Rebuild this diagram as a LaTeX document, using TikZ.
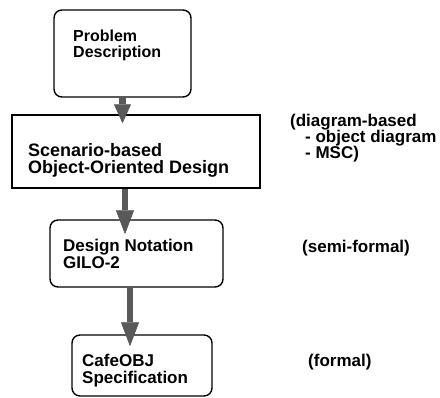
\documentclass[tikz,border=0pt]{standalone}
\usepackage{fontspec}
\setmainfont{Liberation Sans}
\usetikzlibrary{arrows.meta}

\begin{document}
\begin{tikzpicture}[x=1pt,y=-1pt]
\tikzstyle{block}=[draw,line width=1.4pt,rounded corners=8pt,inner sep=0pt]
\tikzstyle{plainblock}=[block,rounded corners=0pt]
\tikzstyle{txt}=[anchor=north west,align=left,inner sep=0pt,font=\fontsize{17}{17}\selectfont\bfseries]
\tikzstyle{flow}=[line width=6.5pt,draw=black!65,-{Triangle[width=18pt,length=24pt,line width=0.8pt,fill=black!65]},shorten >=-12pt]
\useasboundingbox (0,0) rectangle (440,398);
\node [block,minimum width=137pt,minimum height=87pt] (problem) at (122.5,53.5) {};
\node [plainblock,minimum width=248pt,minimum height=73pt] (scenario) at (136,151.5) {};
\node [block,minimum width=173pt,minimum height=67pt] (design) at (136.5,253.5) {};
\node [block,minimum width=140pt,minimum height=61pt] (cafe) at (142,365.5) {};
\node [txt,font=\fontsize{16}{16}\selectfont\bfseries] (problemtext) at (73,30) {Problem\\Description};
\node [txt,font=\fontsize{18}{17}\selectfont\bfseries] (scenariotext) at (28,143) {Scenario-based\\Object-Oriented Design};
\node [txt] (designtext) at (63,239) {Design Notation\\GILO-2};
\node [txt] (cafetext) at (82,354) {CafeOBJ\\Specification};
\node [txt,font=\fontsize{17}{16}\selectfont\bfseries] (diagramnote) at (290,114) {(diagram-based\\\hspace*{15pt}- object diagram\\\hspace*{15pt}- MSC)};
\node [txt] (semiformal) at (302,240) {(semi-formal)};
\node [txt] (formal) at (308,354) {(formal)};
\draw [flow,shorten >=-9pt,-{Triangle[width=17pt,length=19pt,line width=0.8pt,fill=black!65]}] (problem.south) -- (problem.south |- scenario.north);
\draw [flow,shorten >=-15pt] ([xshift=-11pt]scenario.south) -- ([xshift=-11pt]scenario.south |- design.north);
\draw [flow] ([xshift=-6.5pt]design.south) -- ([xshift=-6.5pt]design.south |- cafe.north);
\end{tikzpicture}
\end{document}
